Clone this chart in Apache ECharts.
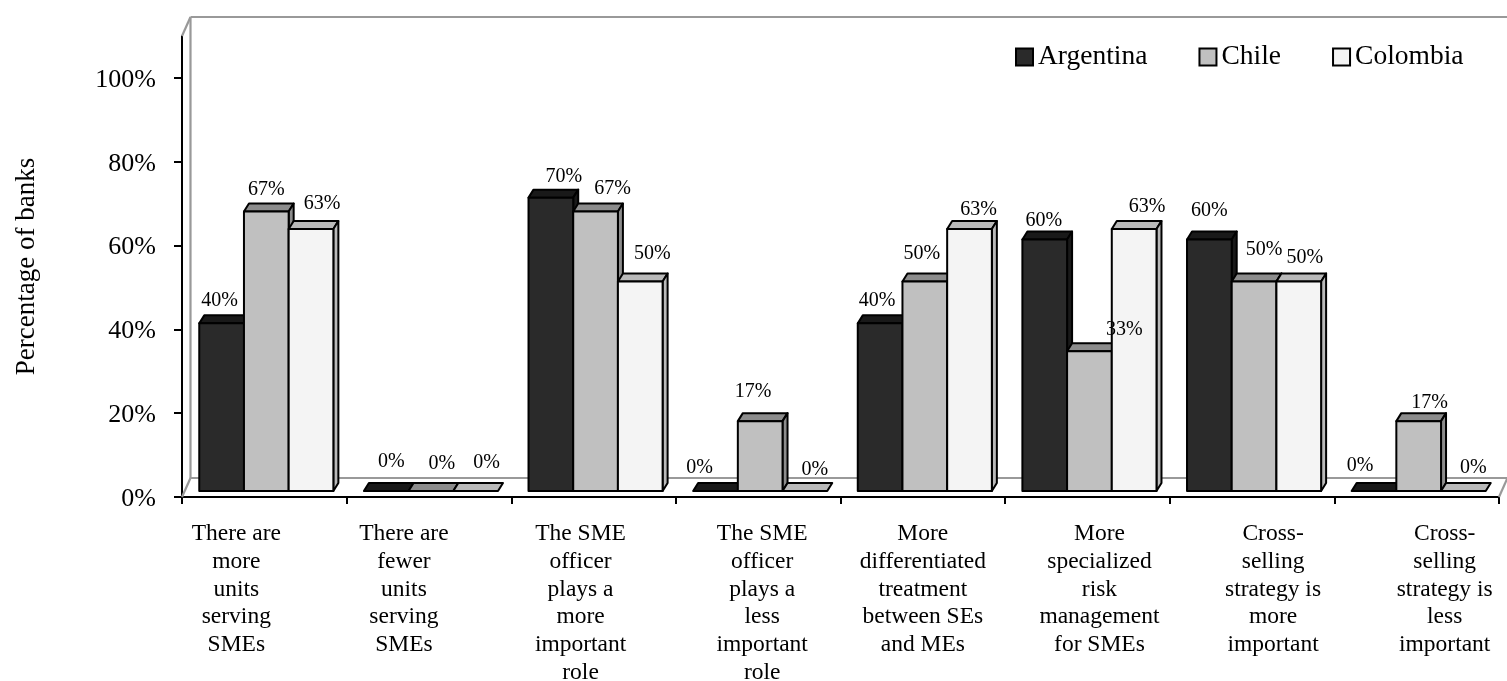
<!DOCTYPE html>
<html>
<head>
<meta charset="utf-8">
<style>html,body{margin:0;padding:0;background:#fff}#c{width:1507px;height:681px}</style>
<script src="https://cdn.jsdelivr.net/npm/echarts@6/dist/echarts.min.js"></script>
</head>
<body>
<div id="c"></div>
<script>
const categories = [
  "There are\nmore\nunits\nserving\nSMEs",
  "There are\nfewer\nunits\nserving\nSMEs",
  "The SME\nofficer\nplays a\nmore\nimportant\nrole",
  "The SME\nofficer\nplays a\nless\nimportant\nrole",
  "More\ndifferentiated\ntreatment\nbetween SEs\nand MEs",
  "More\nspecialized\nrisk\nmanagement\nfor SMEs",
  "Cross-\nselling\nstrategy is\nmore\nimportant",
  "Cross-\nselling\nstrategy is\nless\nimportant"
];
const argentina = [40, 0, 70, 0, 40, 60, 60, 0];
const chile = [66.67, 0, 66.67, 16.67, 50, 33.33, 50, 16.67];
const colombia = [62.5, 0, 50, 0, 62.5, 62.5, 50, 0];
const yTicks = [0, 20, 40, 60, 80, 100];

// Layout nudges (pixels), not data
const catLabelDx = [-28, -25, -13, 4, 0, 12, 21, 28];
const labelDx = [
  [-2, 5, 13, -16, -3, -1, 0, -14],
  [0, 11, 17, -7, -3, 35, 10, 11],
  [11, 11, 12, 10, 9, 13, 6, 10]
];
const labelDy = [
  [-23, -29, -21, -23, -23, -19, -29, -25],
  [-21.4, -27, -22.4, -29.4, -28, -21.6, -32, -18.4],
  [-24.9, -28, -28, -21, -18.9, -21.9, -24, -23]
];
const FONT = '"Liberation Serif","Times New Roman",serif';
const BAR_W = 44.7, DEPTH_X = 5, DEPTH_Y = 8, BASE_UP = 6, SHIFT_X = 2;
const WALL_DX = 8.5, WALL_DY = -19;
const palette = [
  {front: '#2a2a2a', top: '#191919', side: '#191919'},
  {front: '#c0c0c0', top: '#8c8c8c', side: '#8c8c8c'},
  {front: '#f4f4f4', top: '#b9b9b9', side: '#b9b9b9'}
];

function barSeries(name, values, s) {
  return {
    name: name,
    type: 'custom',
    z: 3,
    silent: true,
    itemStyle: {color: palette[s].front, borderColor: '#000', borderWidth: 2.4},
    data: values.map((v, i) => [i, v]),
    encode: {x: 0, y: 1},
    renderItem: function (params, api) {
      const i = api.value(0), v = api.value(1);
      const p0 = api.coord([i, 0]), p1 = api.coord([i, v]);
      const xl = p0[0] + SHIFT_X + (s - 1.5) * BAR_W, xr = xl + BAR_W;
      const yb = p0[1] - BASE_UP, yt = p1[1] - BASE_UP;
      const line = {stroke: '#000', lineWidth: 2, lineJoin: 'round'};
      const poly = (pts, fill) => ({type: 'polygon', shape: {points: pts}, style: Object.assign({fill: fill}, line)});
      const children = [
        poly([[xl, yt], [xl + DEPTH_X, yt - DEPTH_Y], [xr + DEPTH_X, yt - DEPTH_Y], [xr, yt]], palette[s].top)
      ];
      if (v > 0) {
        children.push(poly([[xr, yt], [xr + DEPTH_X, yt - DEPTH_Y], [xr + DEPTH_X, yb - DEPTH_Y], [xr, yb]], palette[s].side));
        children.push(poly([[xl, yt], [xr, yt], [xr, yb], [xl, yb]], palette[s].front));
      }
      children.push({
        type: 'text',
        z2: 20,
        style: {
          text: Math.round(v) + '%',
          x: (xl + xr) / 2 + labelDx[s][i],
          y: yt + labelDy[s][i],
          align: 'center', verticalAlign: 'middle',
          fontFamily: FONT, fontSize: 20, fill: '#000'
        }
      });
      return {type: 'group', children: children};
    }
  };
}

const frameSeries = {
  type: 'custom',
  z: 1,
  silent: true,
  data: [[0, 0]],
  encode: {x: 0, y: 1},
  renderItem: function (params) {
    const r = params.coordSys;
    const l = r.x, t = r.y, R = r.x + r.width, b = r.y + r.height;
    const st = {stroke: '#999', lineWidth: 2.2, fill: 'none'};
    const seg = (x1, y1, x2, y2) => ({type: 'line', shape: {x1, y1, x2, y2}, style: st});
    return {type: 'group', children: [
      seg(l, t, l + WALL_DX, t + WALL_DY),
      seg(l + WALL_DX, t + WALL_DY, 1507, t + WALL_DY),
      seg(l + WALL_DX, t + WALL_DY, l + WALL_DX, b + WALL_DY),
      seg(l, b, l + WALL_DX, b + WALL_DY),
      seg(l + WALL_DX, b + WALL_DY, 1507, b + WALL_DY),
      seg(R, b, R + WALL_DX, b + WALL_DY)
    ]};
  }
};

const catLabelSeries = {
  type: 'custom',
  z: 4,
  silent: true,
  data: categories.map((c, i) => [i, 0]),
  encode: {x: 0, y: 1},
  renderItem: function (params, api) {
    const i = api.value(0);
    const p = api.coord([i, 0]);
    return {
      type: 'text',
      style: {
        text: categories[i],
        x: p[0] + catLabelDx[i], y: p[1] + 23,
        align: 'center', verticalAlign: 'top',
        fontFamily: FONT, fontSize: 23.5, lineHeight: 27.8, fill: '#000'
      }
    };
  }
};

const chart = echarts.init(document.getElementById('c'), null, {renderer: 'canvas'});
chart.setOption({
  animation: false,
  backgroundColor: '#fff',
  textStyle: {fontFamily: FONT, color: '#000'},
  grid: {left: 182, right: 8, top: 36, bottom: 184, outerBoundsMode: 'none'},
  legend: {
    data: ['Argentina', 'Chile', 'Colombia'],
    left: 1015, top: 43, padding: 0,
    itemWidth: 17, itemHeight: 17, itemGap: 51, icon: 'rect',
    textStyle: {fontFamily: FONT, fontSize: 27.5, color: '#000'},
    selectedMode: false
  },
  xAxis: {
    type: 'category',
    data: categories,
    boundaryGap: true,
    axisLine: {show: true, onZero: true, lineStyle: {color: '#000', width: 2}},
    axisTick: {show: true, length: 7, lineStyle: {color: '#000', width: 2}},
    axisLabel: {show: false},
    splitLine: {show: false}
  },
  yAxis: {
    type: 'value',
    min: 0, max: 110, interval: 20,
    name: 'Percentage of banks',
    nameLocation: 'middle', nameRotate: 90, nameGap: 142,
    nameTextStyle: {fontFamily: FONT, fontSize: 27, color: '#000'},
    axisLine: {show: true, lineStyle: {color: '#000', width: 2}},
    axisTick: {show: true, length: 8, customValues: yTicks, lineStyle: {color: '#000', width: 2}},
    axisLabel: {
      color: '#000', margin: 26,
      customValues: yTicks,
      formatter: v => '{t|' + v + '%}',
      rich: {t: {fontFamily: FONT, fontSize: 26, color: '#000', padding: [4, 0, 0, 0]}}
    },
    splitLine: {show: false}
  },
  series: [
    frameSeries,
    barSeries('Argentina', argentina, 0),
    barSeries('Chile', chile, 1),
    barSeries('Colombia', colombia, 2),
    catLabelSeries
  ]
});
</script>
</body>
</html>
